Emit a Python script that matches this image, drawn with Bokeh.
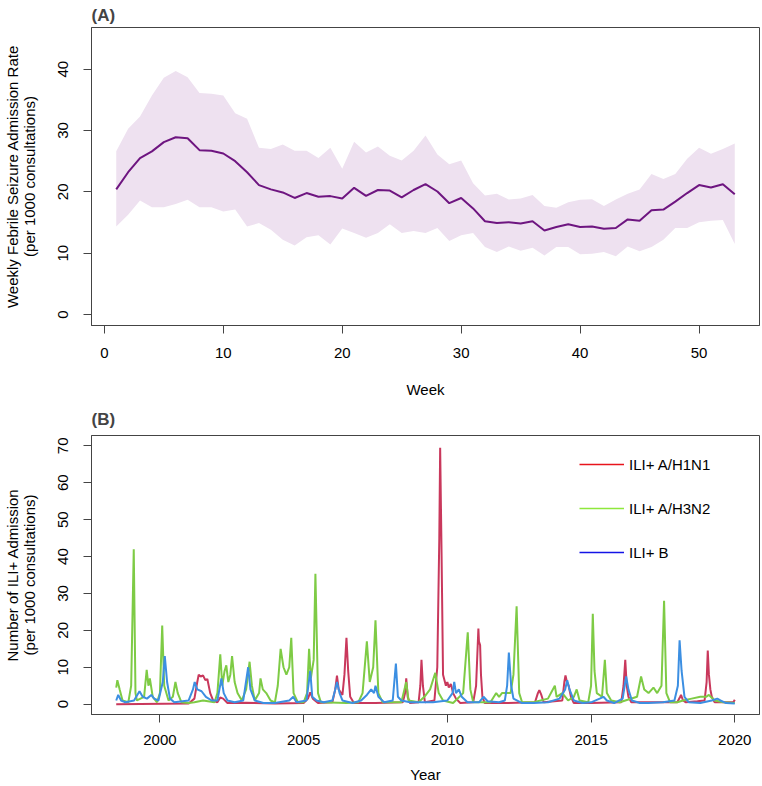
from bokeh.plotting import figure
from bokeh.layouts import column
from bokeh.models import Range1d, FixedTicker, Legend, LegendItem
from bokeh.embed import file_html
from bokeh.resources import INLINE

# ---------------- Panel A data ----------------
weeks = list(range(1, 54))
mean_rate = [20.4, 23.2, 25.5, 26.6, 28.1, 28.9, 28.75, 26.8, 26.7, 26.25,
             25.0, 23.2, 21.1, 20.4, 19.9, 19.0, 19.8, 19.2, 19.3, 18.9,
             20.65, 19.35, 20.3, 20.2, 19.1, 20.3, 21.25, 20.05, 18.15, 19.0,
             17.3, 15.2, 14.9, 15.05, 14.85, 15.2, 13.7, 14.25, 14.7, 14.25,
             14.35, 13.97, 14.1, 15.5, 15.3, 17.0, 17.1, 18.4, 19.8, 21.1,
             20.7, 21.25, 19.6]
upper_rate = [26.6, 30.3, 32.3, 35.7, 38.6, 39.7, 38.7, 36.1, 36.0, 35.7,
              32.8, 31.9, 27.2, 27.0, 27.7, 26.7, 26.7, 25.5, 27.2, 23.75,
              28.15, 26.4, 27.4, 25.9, 25.1, 26.7, 29.2, 26.1, 24.5, 25.1,
              21.4, 19.4, 19.7, 18.75, 18.9, 19.5, 17.7, 17.4, 18.3, 18.7,
              18.8, 17.7, 18.75, 19.7, 20.4, 22.9, 22.1, 22.9, 25.4, 27.2,
              26.2, 27.0, 27.9]
lower_rate = [14.35, 16.25, 18.6, 17.5, 17.5, 18.0, 18.7, 17.5, 17.5, 16.8,
              17.1, 14.35, 14.9, 13.8, 12.2, 11.25, 12.6, 12.9, 11.4, 14.0,
              13.3, 12.5, 13.3, 14.7, 13.3, 13.6, 13.3, 14.1, 12.0, 12.9,
              13.3, 11.0, 10.2, 11.1, 10.4, 10.9, 9.6, 11.0, 11.0, 9.8,
              9.9, 10.2, 9.5, 11.1, 10.3, 11.0, 12.2, 14.1, 14.1, 15.05,
              15.3, 15.4, 11.5]
weekA_ticks = [0, 10, 20, 30, 40, 50]
rateA_ticks = [0, 10, 20, 30, 40]

# ---------------- Panel B data ----------------
h1n1_year = [1998.48, 2001.0, 2001.2, 2001.3, 2001.35, 2001.42, 2001.5, 2001.58, 2001.65, 2001.75,
             2001.85, 2002.0, 2002.1, 2002.2, 2002.35, 2003.0, 2004.0, 2005.0, 2005.15, 2005.23,
             2005.32, 2005.5, 2006.0, 2006.1, 2006.16, 2006.22, 2006.35, 2006.42, 2006.49, 2006.55,
             2006.62, 2006.75, 2007.5, 2008.45, 2008.53, 2008.57, 2008.62, 2008.7, 2009.0, 2009.06,
             2009.1, 2009.15, 2009.22, 2009.55, 2009.65, 2009.72, 2009.75, 2009.8, 2009.85, 2009.9,
             2009.95, 2010.0, 2010.05, 2010.12, 2010.2, 2010.3, 2010.45, 2010.9, 2011.0, 2011.08,
             2011.1, 2011.14, 2011.17, 2011.22, 2011.3, 2012.0, 2013.05, 2013.15, 2013.2, 2013.27,
             2013.35, 2014.0, 2014.07, 2014.11, 2014.16, 2014.22, 2014.3, 2014.4, 2015.0, 2016.05,
             2016.13, 2016.19, 2016.24, 2016.3, 2016.4, 2017.0, 2018.0, 2018.1, 2018.13, 2018.2,
             2018.3, 2018.7, 2018.95, 2019.02, 2019.06, 2019.1, 2019.15, 2019.2, 2019.3, 2019.7,
             2019.95, 2020.0]
h1n1_val = [0.0, 0.2, 1.5, 6.0, 8.0, 7.5, 7.8, 6.5, 6.8, 3.0,
            1.0, 0.5, 1.8, 1.5, 0.3, 0.4, 0.2, 0.3, 1.5, 3.2,
            1.5, 0.3, 0.5, 4.0, 7.7, 4.0, 2.5, 8.0, 18.0, 9.0,
            2.0, 0.3, 0.3, 0.5, 3.0, 7.0, 2.0, 0.3, 0.5, 5.0,
            12.0, 5.0, 0.5, 1.0, 10.0, 45.0, 69.5, 40.0, 8.0, 6.5,
            5.0, 6.0, 4.5, 5.5, 3.0, 1.5, 0.3, 0.5, 5.0, 20.5,
            17.0, 16.0, 8.0, 2.0, 0.3, 0.3, 0.5, 3.0, 3.8, 2.5,
            0.5, 1.0, 6.0, 7.8, 6.0, 5.0, 2.0, 0.3, 0.3, 0.5,
            5.0, 12.0, 5.0, 2.0, 0.5, 0.5, 0.5, 2.0, 2.5, 1.0,
            0.5, 0.8, 1.0, 6.0, 14.5, 8.0, 4.0, 2.0, 0.5, 0.5,
            0.5, 1.2]

h3n2_year = [1998.48, 1998.52, 1998.6, 1998.7, 1998.9, 1999.0, 1999.09, 1999.15, 1999.2, 1999.45,
             1999.54, 1999.6, 1999.65, 1999.75, 1999.9, 2000.0, 2000.08, 2000.15, 2000.3, 2000.45,
             2000.54, 2000.62, 2000.75, 2001.0, 2001.2, 2001.5, 2001.9, 2002.0, 2002.1, 2002.17,
             2002.25, 2002.31, 2002.38, 2002.45, 2002.51, 2002.6, 2002.7, 2002.85, 2003.0, 2003.12,
             2003.2, 2003.3, 2003.45, 2003.5, 2003.58, 2003.7, 2003.85, 2004.0, 2004.1, 2004.2,
             2004.3, 2004.4, 2004.5, 2004.57, 2004.65, 2004.8, 2005.0, 2005.12, 2005.19, 2005.25,
             2005.35, 2005.41, 2005.5, 2005.6, 2006.5, 2006.9, 2007.05, 2007.2, 2007.3, 2007.42,
             2007.5, 2007.6, 2007.75, 2008.4, 2008.57, 2008.65, 2009.0, 2009.2, 2009.4, 2009.58,
             2009.7, 2009.85, 2010.2, 2010.55, 2010.71, 2010.8, 2010.9, 2011.5, 2011.7, 2011.8,
             2011.9, 2012.2, 2012.3, 2012.41, 2012.5, 2012.6, 2013.0, 2013.5, 2013.74, 2013.8,
             2014.0, 2014.2, 2014.4, 2014.5, 2014.6, 2014.9, 2015.0, 2015.06, 2015.12, 2015.2,
             2015.38, 2015.48, 2015.55, 2015.7, 2016.0, 2016.6, 2016.74, 2016.85, 2017.0, 2017.17,
             2017.3, 2017.45, 2017.54, 2017.62, 2017.75, 2018.0, 2018.2, 2018.5, 2018.8, 2019.0,
             2019.1, 2019.3, 2019.6, 2020.0]
h3n2_val = [4.5, 6.5, 4.0, 1.0, 0.5, 5.0, 42.0, 3.0, 1.0, 2.0,
            9.3, 5.0, 7.0, 2.0, 0.5, 3.0, 21.3, 5.0, 1.0, 2.0,
            6.0, 3.0, 0.5, 0.3, 0.5, 1.0, 0.5, 3.0, 13.5, 5.0,
            9.0, 10.5, 6.0, 8.0, 13.0, 6.0, 3.0, 1.0, 4.0, 11.5,
            5.0, 1.0, 3.0, 7.0, 4.0, 3.0, 1.0, 0.5, 5.0, 15.0,
            10.0, 8.0, 10.0, 18.0, 3.0, 0.5, 0.5, 3.0, 15.0, 7.0,
            12.0, 35.3, 3.0, 0.5, 0.3, 0.5, 3.0, 17.0, 6.0, 10.0,
            22.7, 3.0, 0.5, 0.5, 6.0, 1.0, 0.5, 2.0, 4.0, 8.5,
            3.0, 1.0, 0.3, 3.0, 19.5, 4.0, 0.5, 0.5, 3.0, 2.0,
            3.0, 3.0, 8.0, 26.5, 3.0, 0.5, 0.5, 1.5, 5.0, 2.0,
            3.0, 1.0, 2.0, 4.0, 1.0, 0.5, 5.0, 24.5, 9.0, 3.0,
            2.0, 12.0, 3.0, 1.0, 0.5, 2.0, 7.5, 4.0, 3.0, 4.5,
            3.0, 5.0, 28.0, 3.0, 0.5, 0.5, 1.0, 1.5, 2.0, 2.0,
            2.5, 1.0, 0.5, 0.3]

b_year = [1998.48, 1998.55, 1998.65, 1998.8, 1999.1, 1999.29, 1999.4, 1999.55, 1999.7, 1999.8,
          1999.95, 2000.1, 2000.17, 2000.25, 2000.35, 2000.5, 2001.0, 2001.15, 2001.21, 2001.3,
          2001.45, 2001.6, 2001.8, 2002.0, 2002.14, 2002.22, 2002.35, 2002.6, 2002.9, 2003.07,
          2003.15, 2003.3, 2003.6, 2004.0, 2004.5, 2004.64, 2004.75, 2005.1, 2005.23, 2005.3,
          2005.45, 2005.7, 2006.0, 2006.1, 2006.16, 2006.25, 2006.35, 2006.7, 2007.0, 2007.2,
          2007.35, 2007.45, 2007.5, 2007.6, 2007.8, 2008.1, 2008.21, 2008.28, 2008.4, 2008.7,
          2009.0, 2009.5, 2010.0, 2010.18, 2010.24, 2010.3, 2010.4, 2010.5, 2010.7, 2011.1,
          2011.26, 2011.4, 2011.8, 2012.0, 2012.08, 2012.14, 2012.22, 2012.3, 2012.6, 2013.0,
          2013.5, 2013.9, 2014.1, 2014.17, 2014.25, 2014.4, 2014.7, 2015.0, 2015.3, 2015.43,
          2015.55, 2015.8, 2016.1, 2016.22, 2016.3, 2016.42, 2016.7, 2017.0, 2017.5, 2017.9,
          2018.02, 2018.08, 2018.15, 2018.25, 2018.4, 2018.8, 2019.2, 2019.39, 2019.5, 2019.7,
          2020.0]
b_val = [1.0, 2.5, 1.0, 0.5, 1.0, 3.5, 2.0, 1.5, 2.5, 1.5,
         1.0, 6.0, 13.0, 6.0, 1.5, 0.5, 1.0, 4.0, 6.0, 4.0,
         3.5, 2.0, 1.0, 1.0, 7.0, 3.0, 1.0, 0.5, 1.0, 10.0,
         4.0, 1.0, 0.3, 0.3, 1.0, 2.0, 0.5, 1.0, 9.0, 2.0,
         1.0, 0.5, 1.0, 4.0, 6.0, 3.0, 1.0, 0.3, 1.0, 2.5,
         4.0, 3.0, 5.0, 2.0, 0.5, 1.0, 11.0, 2.0, 1.0, 0.5,
         0.5, 0.5, 1.0, 3.0, 6.0, 3.0, 4.0, 2.0, 0.5, 0.5,
         2.0, 0.8, 0.5, 1.0, 5.0, 14.0, 5.0, 1.5, 0.3, 0.3,
         0.5, 1.5, 4.0, 6.5, 4.0, 1.0, 0.3, 0.5, 1.5, 2.0,
         1.0, 0.3, 1.5, 7.5, 4.0, 1.0, 0.3, 0.3, 0.5, 1.0,
         5.0, 17.3, 9.0, 2.0, 0.5, 0.3, 1.0, 1.5, 1.0, 0.3,
         0.2]
yearB_ticks = [2000, 2005, 2010, 2015, 2020]
countB_ticks = [0, 10, 20, 30, 40, 50, 60, 70]
legend_labels = ["ILI+ A/H1N1", "ILI+ A/H3N2", "ILI+ B"]

FONT = "Liberation Sans"
AX = "#444444"
NAN = float("nan")


def style(p, title_standoff):
    p.outline_line_color = AX
    p.outline_line_width = 1
    p.xgrid.visible = False
    p.ygrid.visible = False
    p.background_fill_color = "white"
    p.border_fill_color = "white"
    for ax in (p.xaxis[0], p.yaxis[0]):
        ax.axis_line_color = AX
        ax.major_tick_line_color = AX
        ax.major_tick_in = 0
        ax.major_tick_out = 8
        ax.minor_tick_line_color = None
        ax.major_label_text_font = FONT
        ax.major_label_text_font_size = "15px"
        ax.major_label_text_color = "black"
        ax.axis_label_text_font = FONT
        ax.axis_label_text_font_size = "15px"
        ax.axis_label_text_font_style = "normal"
        ax.axis_label_text_color = "black"
    p.yaxis.major_label_orientation = "vertical"
    p.yaxis.axis_label_text_line_height = 1.0
    p.xaxis.major_label_standoff = 14
    p.xaxis.axis_label_standoff = 20
    p.yaxis.major_label_standoff = 15
    p.yaxis.axis_label_standoff = 18
    p.title.text_font = FONT
    p.title.text_font_size = "17px"
    p.title.text_font_style = "bold"
    p.title.align = "left"
    p.title.standoff = title_standoff


# ---------------- Panel A ----------------
pA = figure(width=760, height=400, output_backend="svg", toolbar_location=None,
            x_range=Range1d(-1.08, 55.08), y_range=Range1d(-1.8, 46.8),
            min_border_left=89, min_border_right=1, min_border_top=27, min_border_bottom=75,
            title="(A)")
pA.varea(x=weeks, y1=lower_rate, y2=upper_rate, fill_color="#eee1f0", fill_alpha=1.0)
pA.line(weeks, mean_rate, line_color="#6e1580", line_width=2)
style(pA, 6)
pA.xaxis.ticker = FixedTicker(ticks=weekA_ticks)
pA.yaxis.ticker = FixedTicker(ticks=rateA_ticks)
pA.xaxis.axis_label = "Week"
pA.yaxis.axis_label = "Weekly Febrile Seizure Admission Rate\n(per 1000 consultations)"

# ---------------- Panel B ----------------
pB = figure(width=760, height=386, output_backend="svg", toolbar_location=None,
            x_range=Range1d(1997.62, 2020.86), y_range=Range1d(-2.8, 72.8),
            min_border_left=89, min_border_right=1, min_border_top=35, min_border_bottom=72,
            title="(B)")
pB.line(h1n1_year, h1n1_val, line_color="#c9385c", line_width=2)
pB.line(h3n2_year, h3n2_val, line_color="#7ecb45", line_width=2)
pB.line(b_year, b_val, line_color="#3c8fe2", line_width=2)
style(pB, 13)
pB.xaxis.major_label_standoff = 12
pB.xaxis.axis_label_standoff = 18
pB.xaxis.ticker = FixedTicker(ticks=yearB_ticks)
pB.yaxis.ticker = FixedTicker(ticks=countB_ticks)
pB.xaxis.axis_label = "Year"
pB.yaxis.axis_label = "Number of ILI+ Admission\n(per 1000 consultations)"

leg_colors = ["#e8141c", "#8ee83c", "#1414e6"]
items = []
for lab, col in zip(legend_labels, leg_colors):
    r = pB.line([NAN], [NAN], line_color=col, line_width=1.5)
    items.append(LegendItem(label=lab, renderers=[r]))
leg = Legend(items=items, location=(488, 152), glyph_width=45, glyph_height=20,
             label_height=20, spacing=24, label_standoff=5, padding=0, margin=0,
             border_line_color=None, background_fill_alpha=0,
             label_text_font=FONT, label_text_font_size="15px", label_text_color="black")
pB.add_layout(leg, "center")

layout = column(pA, pB, spacing=0)
open("out.html", "w").write(file_html(layout, INLINE))
